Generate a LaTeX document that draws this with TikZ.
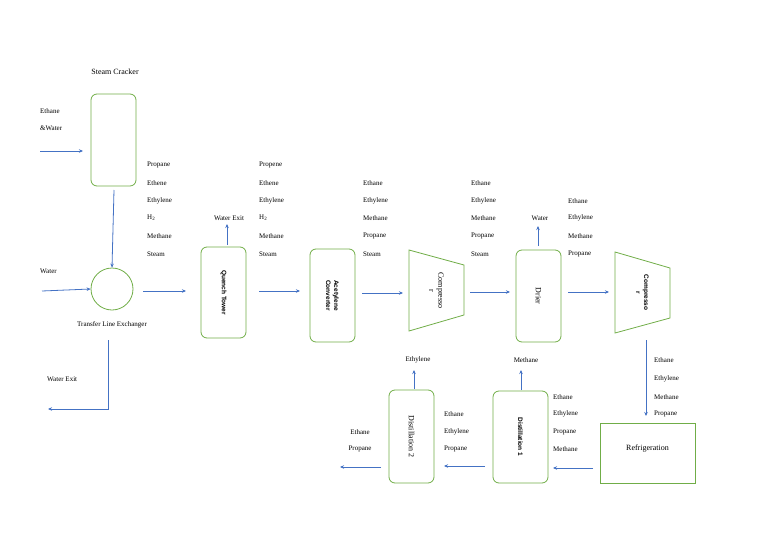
\documentclass[tikz,border=0pt]{standalone}
\usepackage{fontspec}
\setmainfont{Liberation Serif}
\newfontfamily\sansb{Liberation Sans}
\usetikzlibrary{arrows.meta}
\definecolor{gbox}{RGB}{112,173,71}
\definecolor{barr}{RGB}{68,114,196}
\begin{document}
\begin{tikzpicture}[x=1pt,y=-1pt,
  box/.style={draw=gbox,line width=0.8pt,rounded corners=6pt},
  flow/.style={draw=barr,line width=0.8pt,-{Stealth[length=4pt,width=3.5pt]}},
  lbl/.style={font=\fontsize{7}{8}\selectfont,inner sep=0pt,anchor=west},
  clbl/.style={font=\fontsize{7}{8}\selectfont,inner sep=0pt},
  vt/.style={rotate=-90,font=\fontsize{8}{9}\selectfont,align=center,inner sep=0pt},
  vb/.style={rotate=-90,font=\sansb\bfseries\fontsize{6.5}{8}\selectfont,align=center,inner sep=0pt}]
\useasboundingbox (0,0) rectangle (768,543);
% Steam cracker
\node[clbl,font=\fontsize{8}{9}\selectfont] (sclbl) at (115,72) {Steam Cracker};
\draw[box] (91,94) rectangle (136,186);
\coordinate (scb) at (114,190);
\node[lbl] (ew1) at (40,111) {Ethane};
\node[lbl] (ew2) at (40,128) {\&Water};
\coordinate (ewa) at (40,151); \coordinate (ewb) at (83,151);
\draw[flow] (ewa) -- (ewb);
% TLE
\node[circle,draw=gbox,line width=0.8pt,minimum size=42pt,inner sep=0pt] (tle) at (112,289) {};
\draw[flow] (scb) -- (tle.north);
\node[lbl] (wtr) at (40,271) {Water};
\coordinate (wa) at (42,291);
\draw[flow] (wa) -- (tle.west);
\node[clbl] (tlel) at (112,325) {Transfer Line Exchanger};
\node[lbl] (wex) at (47,379) {Water Exit};
\coordinate (wx1) at (108,340); \coordinate (wx2) at (108,409); \coordinate (wx3) at (48,409);
\draw[flow] (wx1) -- (wx2) -- (wx3);
\coordinate (a1) at (143,291); \coordinate (b1) at (186,291);
\draw[flow] (a1) -- (b1);
% col 1
\foreach \t/\y in {Propane/165,Ethene/183,Ethylene/201,H\textsubscript{2}/218,Methane/236,Steam/254}
  \node[lbl] at (147,\y) {\t};
% Quench tower
\draw[box] (201,247) rectangle (246,338);
\node[vb] (qt) at (223.5,292.5) {Quench Tower};
\node[clbl] (qwx) at (229,218) {Water Exit};
\coordinate (qw1) at (227,245); \coordinate (qw2) at (227,224);
\draw[flow] (qw1) -- (qw2);
\foreach \t/\y in {Propene/165,Ethene/183,Ethylene/201,H\textsubscript{2}/218,Methane/236,Steam/254}
  \node[lbl] at (259,\y) {\t};
\coordinate (a2) at (259,291); \coordinate (b2) at (300,291);
\draw[flow] (a2) -- (b2);
% Acetylene converter
\draw[box] (310,249) rectangle (355,342);
\node[vb] (ac) at (332.5,295.5) {Acetylene\\Converter};
\foreach \t/\y in {Ethane/183,Ethylene/201,Methane/218,Propane/236,Steam/254}
  \node[lbl] at (363,\y) {\t};
\coordinate (a3) at (362,293); \coordinate (b3) at (403,293);
\draw[flow] (a3) -- (b3);
% Compressor 1
\draw[draw=gbox,line width=0.8pt] (409,250) -- (464,265) -- (464,315) -- (409,331) -- cycle;
\node[vt] (c1) at (436.5,290.5) {Compresso\\r};
\foreach \t/\y in {Ethane/183,Ethylene/201,Methane/218,Propane/236,Steam/254}
  \node[lbl] at (471,\y) {\t};
\coordinate (a4) at (470,292); \coordinate (b4) at (510,292);
\draw[flow] (a4) -- (b4);
% Drier
\draw[box] (516,250) rectangle (561,342);
\node[vt] (dr) at (538.5,296) {Drier};
\node[clbl] (dw) at (540,218) {Water};
\coordinate (dw1) at (538,246); \coordinate (dw2) at (538,226);
\draw[flow] (dw1) -- (dw2);
\foreach \t/\y in {Ethane/201,Ethylene/218,Methane/236,Propane/254}
  \node[lbl] at (568,\y) {\t};
\coordinate (a5) at (568,292); \coordinate (b5) at (609,292);
\draw[flow] (a5) -- (b5);
% Compressor 2
\draw[draw=gbox,line width=0.8pt] (615,252) -- (670,268) -- (670,318) -- (615,333) -- cycle;
\node[vb] (c2) at (642.5,292.5) {Compresso\\r};
\coordinate (a6) at (646,340); \coordinate (b6) at (646,416);
\draw[flow] (a6) -- (b6);
\foreach \t/\y in {Ethane/360,Ethylene/379,Methane/397,Propane/414}
  \node[lbl] at (654,\y) {\t};
% Refrigeration
\draw[draw=gbox,line width=0.8pt] (600,423) rectangle (695,483);
\node[clbl,font=\fontsize{8}{9}\selectfont] (ref) at (647.5,449) {Refrigeration};
\coordinate (a7) at (593,468); \coordinate (b7) at (553,468);
\draw[flow] (a7) -- (b7);
% Distillation 1
\draw[box] (493,391) rectangle (548,483);
\node[vb] (d1) at (520.5,437) {Distillation 1};
\node[clbl] (d1m) at (526,360) {Methane};
\coordinate (d1a) at (521,390); \coordinate (d1b) at (521,370);
\draw[flow] (d1a) -- (d1b);
\foreach \t/\y in {Ethane/397,Ethylene/414,Propane/432,Methane/449}
  \node[lbl] at (553,\y) {\t};
\coordinate (a8) at (485,466); \coordinate (b8) at (444,466);
\draw[flow] (a8) -- (b8);
% Distillation 2
\draw[box] (389,390) rectangle (434,483);
\node[vt] (d2) at (411.5,436.5) {Distillation 2};
\node[clbl] (d2e) at (418,360) {Ethylene};
\coordinate (d2a) at (414,389); \coordinate (d2b) at (414,370);
\draw[flow] (d2a) -- (d2b);
\foreach \t/\y in {Ethane/414,Ethylene/432,Propane/449}
  \node[lbl] at (444,\y) {\t};
\node[clbl] (oe) at (360,432) {Ethane};
\node[clbl] (op) at (360,449) {Propane};
\coordinate (a9) at (381,467); \coordinate (b9) at (340,467);
\draw[flow] (a9) -- (b9);
\end{tikzpicture}
\end{document}
